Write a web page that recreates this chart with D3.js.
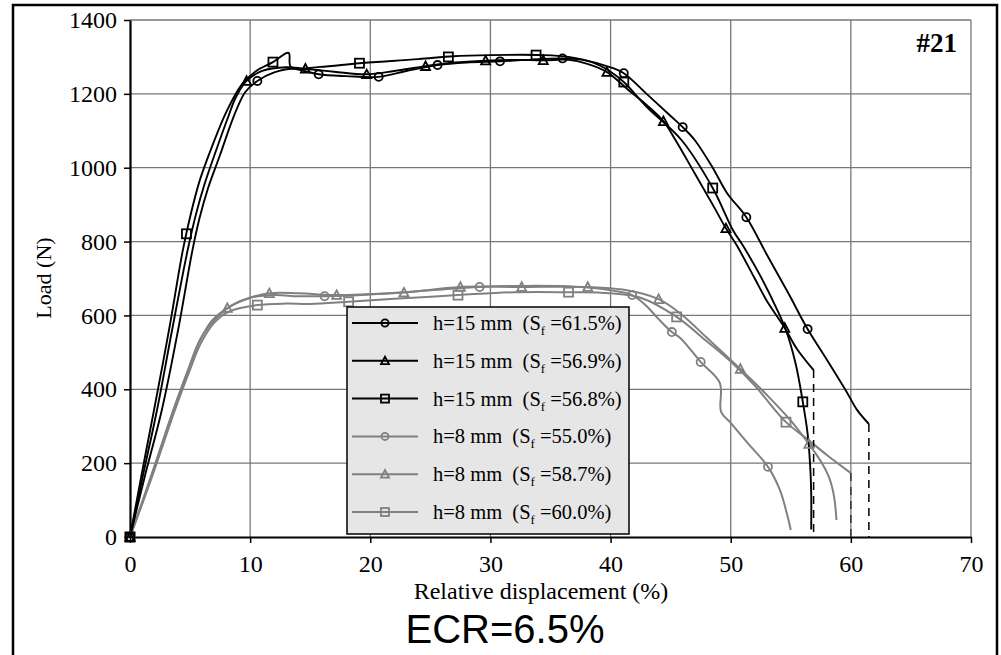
<!DOCTYPE html>
<html><head><meta charset="utf-8">
<script src="https://cdn.jsdelivr.net/npm/d3@7/dist/d3.min.js"></script>
<style>body{margin:0;background:#fff;}svg{display:block;}</style>
</head><body>
<svg id="c" width="1001" height="655"></svg>
<script>
// ---- data ----
const xTicks = [0,10,20,30,40,50,60,70];
const yTicks = [0,200,400,600,800,1000,1200,1400];
const hLabels = ["h=15 mm","h=15 mm","h=15 mm","h=8 mm","h=8 mm","h=8 mm"];
const sfLabels = ["61.5%","56.9%","56.8%","55.0%","58.7%","60.0%"];
const markerTypes = ["circle","triangle","square","circle","triangle","square"];
const seriesColors = ["#000","#000","#000","#808080","#808080","#808080"];

const h15c = [[0,0],[1.2,160],[2.65,344],[4,560],[5.2,777],[5.8,865],[6.5,945],[7.5,1035],[8.3,1110],[8.9,1160],[9.6,1205],[10.6,1235],[12,1258],[13.5,1268],[14.5,1262],[15.7,1253],[18,1248],[20.7,1246],[23,1262],[25.6,1278],[28,1285],[30.8,1288],[33,1292],[36,1296],[38,1290],[40,1272],[41.1,1256],[43,1200],[45,1140],[46,1110],[47,1075],[48.5,1000],[49.7,931],[51.3,866],[53,765],[54.8,660],[56.4,563],[58,480],[59.7,390],[60.5,345],[61.5,306]];
const h15cMarks = [[0,0],[10.6,1235],[15.7,1253],[20.7,1246],[25.6,1278],[30.8,1288],[36.0,1296],[41.1,1256],[46.0,1110],[51.3,866],[56.4,563]];

const h15t = [[0,0],[1.1,170],[2.25,344],[3.5,560],[4.8,777],[5.5,875],[6.2,955],[7.2,1050],[8.2,1140],[8.8,1190],[9.7,1235],[11,1262],[13,1272],[14.5,1268],[17,1260],[19.7,1253],[22,1262],[24.6,1275],[27,1285],[29.6,1290],[32,1292],[34.4,1291],[36.5,1292],[38,1282],[39.7,1259],[41.5,1210],[43,1170],[44.4,1126],[45.4,1075],[47,985],[48.5,900],[49.6,836],[50.5,790],[52,700],[53,640],[54.5,566],[55.5,510],[56.9,452]];
const h15tMarks = [[0,0],[9.7,1235],[14.6,1268],[19.7,1253],[24.6,1275],[29.6,1290],[34.4,1291],[39.7,1259],[44.4,1126],[49.6,836],[54.5,566]];

const h15s = [[0,0],[1,175],[2.0,344],[3.3,570],[4.4,777],[5.1,880],[5.8,965],[6.8,1055],[8,1150],[9.3,1225],[10.5,1262],[11.9,1286],[13.2,1311],[13.4,1272],[15.8,1273],[19.1,1283],[24,1294],[26.9,1302],[30,1305],[34.3,1305],[36.5,1300],[38.5,1285],[40,1260],[41.1,1232],[43,1165],[45.9,1075],[48.5,945],[50.2,830],[51,790],[52.5,705],[53.8,620],[54.6,560],[55.4,470],[56,366],[56.4,280],[56.6,200],[56.7,120],[56.7,20]];
const h15sMarks = [[0,0],[4.7,821],[11.9,1286],[19.1,1283],[26.5,1300],[33.8,1305],[41.1,1232],[48.5,945],[56.0,366]];

const h8c = [[0,0],[1.8,170],[3.6,344],[4.8,450],[5.8,533],[6.7,575],[7.5,603],[8.5,628],[10,648],[12,655],[14,652],[16.2,652],[20,657],[25,668],[29.1,677],[33,680],[37,678],[40,668],[41.8,655],[43,625],[44,590],[45.1,555],[45.8,539],[47.5,474],[49.1,417],[49.2,339],[50,309],[51.4,255],[53.1,190],[54.1,127],[54.7,60],[55,19]];
const h8cMarks = [[0,0],[16.2,652],[29.1,677],[41.8,655],[45.1,555],[47.5,474],[53.1,190]];

const h8t = [[0,0],[1.8,165],[3.6,340],[4.8,448],[5.8,530],[6.8,585],[8.1,620],[10,648],[11.6,660],[14,660],[17.2,655],[20,658],[22.8,662],[27.5,677],[32.6,677],[38.1,677],[41,670],[44,644],[46,600],[48,540],[50.8,455],[53,385],[55,315],[56.5,252],[57.5,205],[58.2,160],[58.6,110],[58.8,46]];
const h8tMarks = [[0,0],[8.1,620],[11.6,660],[17.2,655],[22.8,662],[27.5,677],[32.6,677],[38.1,677],[44,644],[50.8,455],[56.5,252]];

const h8s = [[0,0],[1.8,160],[3.7,340],[4.9,445],[5.9,525],[7,580],[8.2,610],[10.6,628],[13,632],[15,631],[18.2,637],[22,645],[27.3,655],[32,663],[36.5,663],[40,660],[42.5,648],[45.5,596],[48,530],[50,475],[52,410],[54.6,311],[56.5,262],[58,222],[60,173]];
const h8sMarks = [[0,0],[10.6,628],[18.2,637],[27.3,655],[36.5,663],[45.5,596],[54.6,311]];

const dropX = [56.9, 61.5, 60.0];
const dropY = [452, 306, 173];
const dropColors = ["#000","#000","#333"];

const curves = [h15c,h15t,h15s,h8c,h8t,h8s];
const marks = [h15cMarks,h15tMarks,h15sMarks,h8cMarks,h8tMarks,h8sMarks];

// ---- drawing ----
const svg = d3.select("#c");
const x = d3.scaleLinear().domain([0,70]).range([130,971]);
const y = d3.scaleLinear().domain([0,1400]).range([537,20]);
const serif = "'Liberation Serif','Times New Roman',serif";

// outer frame
svg.append("path").attr("d","M13,662 L13,5 L997,5 L997,662")
  .attr("fill","none").attr("stroke","#000").attr("stroke-width",2.5);

// grid
const grid = svg.append("g").attr("stroke","#777").attr("stroke-width",1.3);
xTicks.filter(d=>d>0).forEach(d=>grid.append("line").attr("x1",x(d)).attr("x2",x(d)).attr("y1",y(0)).attr("y2",y(1400)));
yTicks.filter(d=>d>0).forEach(d=>grid.append("line").attr("x1",x(0)).attr("x2",x(70)).attr("y1",y(d)).attr("y2",y(d)));

// axes
const ax = svg.append("g").attr("transform",`translate(0,${y(0)})`)
  .call(d3.axisBottom(x).tickValues(xTicks).tickFormat(d3.format("d")).tickSize(6).tickSizeOuter(0).tickPadding(12));
const ay = svg.append("g").attr("transform",`translate(${x(0)},0)`)
  .call(d3.axisLeft(y).tickValues(yTicks).tickFormat(d3.format("d")).tickSize(6).tickSizeOuter(0).tickPadding(7));
[ax,ay].forEach(g=>{
  g.select(".domain").attr("stroke","#000").attr("stroke-width",2.2);
  g.selectAll(".tick line").attr("stroke","#000").attr("stroke-width",1.5);
  g.selectAll(".tick text").attr("font-family",serif).attr("font-size",24).attr("fill","#000");
});

// markers
function drawMarker(g, type, cx, cy, size, color, sw){
  if(type==="circle"){
    g.append("circle").attr("cx",cx).attr("cy",cy).attr("r",size*0.45)
     .attr("fill","none").attr("stroke",color).attr("stroke-width",sw);
  } else if(type==="triangle"){
    const h=size*0.95, w=size*1.0;
    g.append("path").attr("d",`M${cx},${cy-h*0.55} L${cx+w/2},${cy+h*0.45} L${cx-w/2},${cy+h*0.45} Z`)
     .attr("fill","none").attr("stroke",color).attr("stroke-width",sw);
  } else {
    g.append("rect").attr("x",cx-size/2).attr("y",cy-size/2).attr("width",size).attr("height",size)
     .attr("fill","none").attr("stroke",color).attr("stroke-width",sw);
  }
}

const line = d3.line().x(d=>x(d[0])).y(d=>y(d[1])).curve(d3.curveCatmullRom.alpha(0.5));
const plot = svg.append("g");
[3,4,5,0,1,2].forEach(i=>{
  plot.append("path").datum(curves[i]).attr("d",line).attr("fill","none")
    .attr("stroke",seriesColors[i]).attr("stroke-width",i<3?1.9:2.0).attr("stroke-linejoin","round");
});
dropX.forEach((dx,i)=>{
  plot.append("line").attr("x1",x(dx)).attr("x2",x(dx)).attr("y1",y(dropY[i])).attr("y2",y(0))
    .attr("stroke",dropColors[i]).attr("stroke-width",1.5).attr("stroke-dasharray","8,6");
});
[3,4,5,0,1,2].forEach(i=>{
  marks[i].forEach(p=>drawMarker(plot, markerTypes[i], x(p[0]), y(p[1]), 9, seriesColors[i], 1.8));
});

// legend
const lg = svg.append("g");
lg.append("rect").attr("x",347).attr("y",307).attr("width",282).attr("height",227)
  .attr("fill","#e6e6e6").attr("stroke","#000").attr("stroke-width",1.5);
hLabels.forEach((h,i)=>{
  const cy = 323 + i*37.8;
  lg.append("line").attr("x1",352).attr("x2",418).attr("y1",cy).attr("y2",cy)
    .attr("stroke",seriesColors[i]).attr("stroke-width",2);
  drawMarker(lg, markerTypes[i], 385, cy, 8, seriesColors[i], 1.8);
  const t = lg.append("text").attr("x",433).attr("y",cy+7).attr("font-family",serif)
    .attr("font-size",20.5).attr("fill","#000");
  t.append("tspan").text(h+"\u00a0\u00a0(S");
  t.append("tspan").attr("dy",5).attr("font-size",13).text("f");
  t.append("tspan").attr("dy",-5).text("\u00a0="+sfLabels[i]+")");
});

// labels
svg.append("text").attr("x",957).attr("y",52).attr("text-anchor","end")
  .attr("font-family",serif).attr("font-weight","bold").attr("font-size",27).text("#21");
svg.append("text").attr("transform","translate(51,278) rotate(-90)").attr("text-anchor","middle")
  .attr("font-family",serif).attr("font-size",22).text("Load (N)");
svg.append("text").attr("x",541).attr("y",599).attr("text-anchor","middle")
  .attr("font-family",serif).attr("font-size",24).text("Relative displacement (%)");
svg.append("text").attr("x",505).attr("y",643).attr("text-anchor","middle")
  .attr("font-family","'Liberation Sans',Arial,sans-serif").attr("font-size",40).text("ECR=6.5%");
</script>
</body></html>
